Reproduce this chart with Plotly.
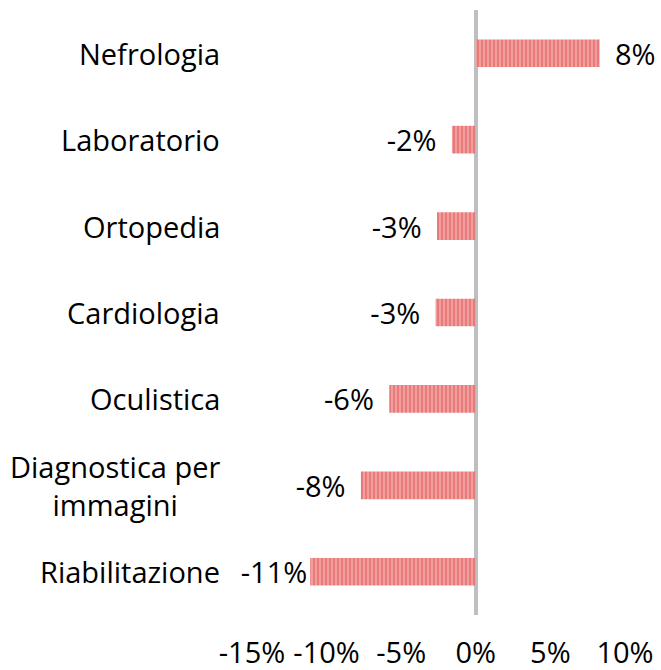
import plotly.graph_objects as go

categories = ["Nefrologia", "Laboratorio", "Ortopedia", "Cardiologia", "Oculistica",
              "Diagnostica per<br>immagini", "Riabilitazione"]
values = [0.083, -0.016, -0.026, -0.027, -0.058, -0.077, -0.111]
tick_vals = [-0.15, -0.10, -0.05, 0.0, 0.05, 0.10]
tick_text = ["-15%", "-10%", "-5%", "0%", "5%", "10%"]

FONT = "Open Sans"
FS = 29
GAP = "\u00a0\u2009"

# label templates with a small gap from the bar end (the longest bar's label sits close)
templates = []
for v in values:
    if v >= 0:
        templates.append(GAP + "%{x:.0%}")
    elif v > -0.10:
        templates.append("%{x:.0%}" + GAP)
    else:
        templates.append("%{x:.0%}")

fig = go.Figure()
fig.add_trace(go.Bar(
    y=categories,
    x=values,
    orientation="h",
    marker=dict(
        color="#f2aaaa",
        line=dict(width=0),
        pattern=dict(shape="|", fgcolor="#dd4a4a", bgcolor="#f2aaaa", size=4, solidity=0.62),
    ),
    texttemplate=templates,
    textposition="outside",
    constraintext="none",
    textfont=dict(family=FONT, size=FS, color="#000000"),
    cliponaxis=False,
    width=0.32,
    hoverinfo="skip",
))

for c in categories:
    fig.add_annotation(
        x=0, xref="paper", xanchor="right", xshift=-30,
        y=c, yref="y", yanchor="middle",
        text=c, showarrow=False, align="center",
        font=dict(family=FONT, size=FS, color="#000000"),
    )

fig.update_layout(
    width=661, height=670,
    margin=dict(l=252, r=36, t=10, b=55, autoexpand=False),
    paper_bgcolor="white", plot_bgcolor="white",
    showlegend=False,
    xaxis=dict(
        range=[-0.15, 0.10],
        tickvals=tick_vals, ticktext=tick_text,
        showgrid=False, zeroline=True, zerolinecolor="#bfbfbf", zerolinewidth=4,
        showline=False, ticks="", automargin=False,
        tickfont=dict(family=FONT, size=FS, color="#000000"),
        ticklabelstandoff=18,
    ),
    yaxis=dict(
        autorange="reversed", automargin=False,
        showticklabels=False, showgrid=False, zeroline=False, showline=False, ticks="",
    ),
)

fig.write_html(
    "out.html",
    config={"displayModeBar": False},
    post_script="document.body.style.margin='0';document.body.style.overflow='hidden';",
)
